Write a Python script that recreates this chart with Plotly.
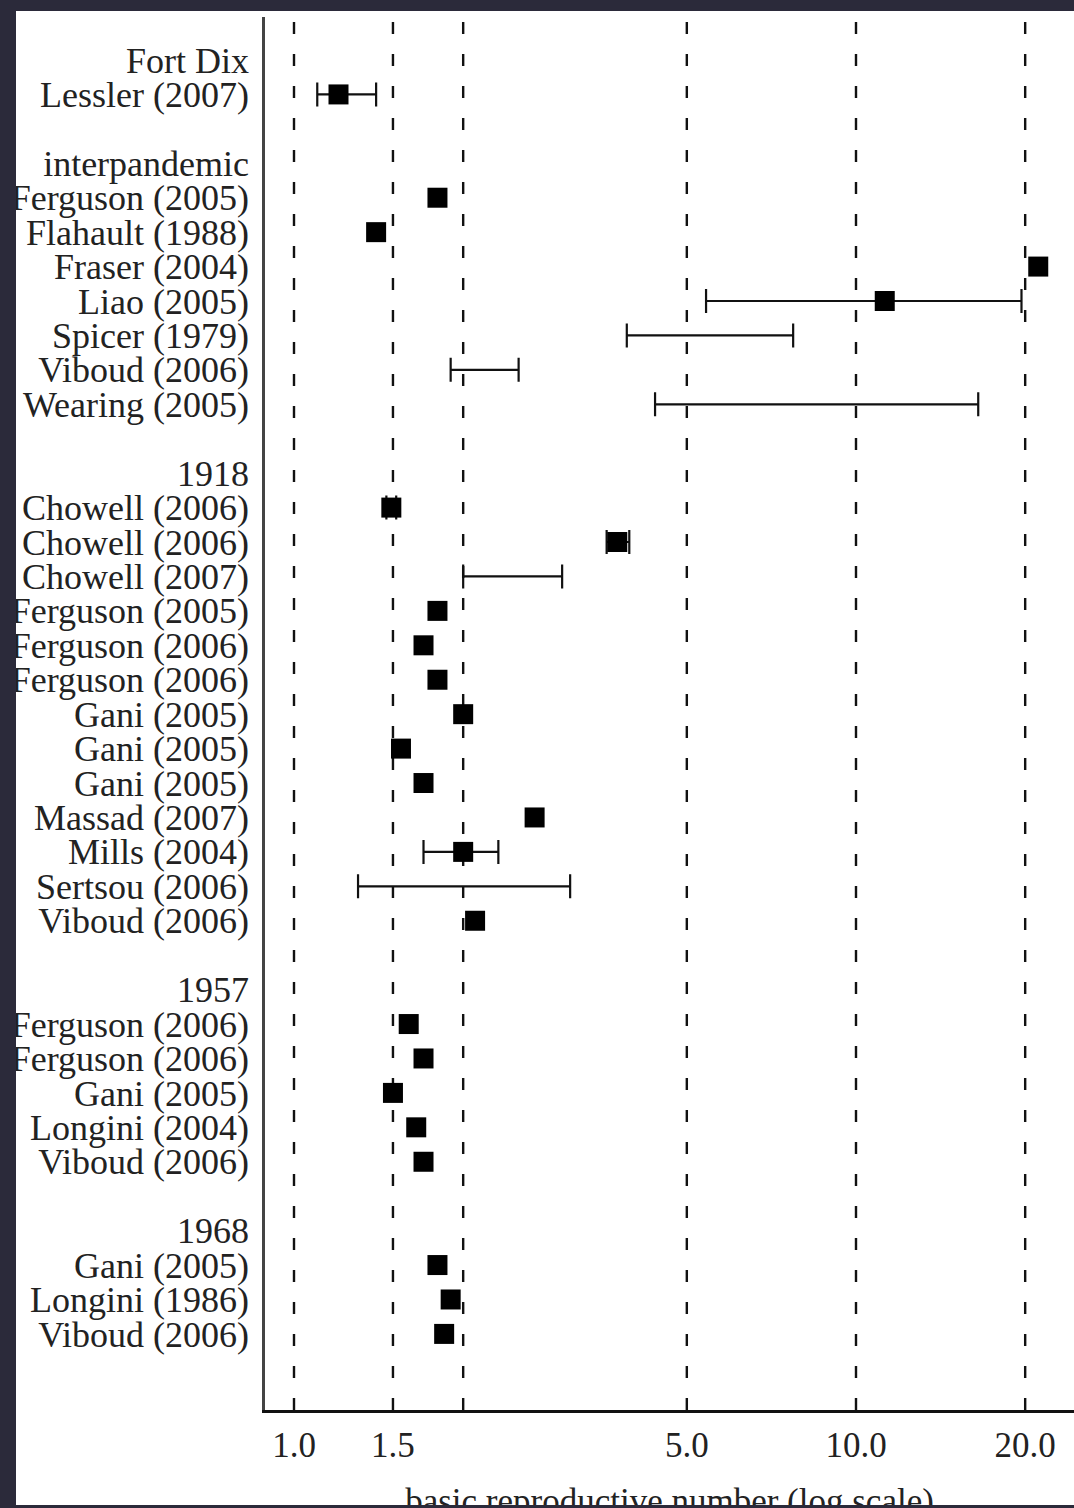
import plotly.graph_objects as go

labels = ["Fort Dix", "Lessler (2007)", "", "interpandemic", "Ferguson (2005)", "Flahault (1988)",
          "Fraser (2004)", "Liao (2005)", "Spicer (1979)", "Viboud (2006)", "Wearing (2005)", "",
          "1918", "Chowell (2006)", "Chowell (2006)", "Chowell (2007)", "Ferguson (2005)",
          "Ferguson (2006)", "Ferguson (2006)", "Gani (2005)", "Gani (2005)", "Gani (2005)",
          "Massad (2007)", "Mills (2004)", "Sertsou (2006)", "Viboud (2006)", "",
          "1957", "Ferguson (2006)", "Ferguson (2006)", "Gani (2005)", "Longini (2004)", "Viboud (2006)", "",
          "1968", "Gani (2005)", "Longini (1986)", "Viboud (2006)"]

estimate = [None, 1.20, None, None, 1.80, 1.40, 21.1, 11.25, None, None, None, None,
            None, 1.49, 3.76, None, 1.80, 1.70, 1.80, 2.00, 1.55, 1.70,
            2.68, 2.00, None, 2.10, None,
            None, 1.60, 1.70, 1.50, 1.65, 1.70, None,
            None, 1.80, 1.90, 1.85]

ci_low = [None, 1.10, None, None, None, None, None, 5.41, 3.91, 1.90, 4.39, None,
          None, 1.46, 3.60, 2.00, None, None, None, None, None, None,
          None, 1.70, 1.30, None, None,
          None, None, None, None, None, None, None,
          None, None, None, None]

ci_high = [None, 1.40, None, None, None, None, None, 19.7, 7.73, 2.51, 16.5, None,
           None, 1.52, 3.95, 3.00, None, None, None, None, None, None,
           None, 2.31, 3.10, None, None,
           None, None, None, None, None, None, None,
           None, None, None, None]

ref_lines = [1.0, 1.5, 2.0, 5.0, 10.0, 20.0]
tick_vals = [1.0, 1.5, 5.0, 10.0, 20.0]
tick_text = ["1.0", "1.5", "5.0", "10.0", "20.0"]
x_title = "basic reproductive number (log scale)"

rows = list(range(len(labels)))

FONT = "Liberation Serif, Times New Roman, serif"
DARK = "#2b2a3a"
W, H = 1074, 1508
ML, MR, MT, MB = 265, 0, 17, 98
PW, PH = W - ML - MR, H - MT - MB

fig = go.Figure()

# confidence intervals
ci_rows = [r for r in rows if ci_low[r] is not None]
fig.add_trace(go.Scatter(
    x=[ci_low[r] for r in ci_rows],
    y=ci_rows,
    mode="markers",
    marker=dict(size=1, color="rgba(0,0,0,0)"),
    error_x=dict(type="data", symmetric=False,
                 array=[ci_high[r] - ci_low[r] for r in ci_rows],
                 arrayminus=[0 for r in ci_rows],
                 color="#111", thickness=2.2, width=12),
    hoverinfo="skip", showlegend=False,
))

# point estimates
pt_rows = [r for r in rows if estimate[r] is not None]
fig.add_trace(go.Scatter(
    x=[estimate[r] for r in pt_rows],
    y=pt_rows,
    mode="markers",
    marker=dict(symbol="square", size=20, color="#000", line=dict(width=0)),
    showlegend=False,
))

# carrier for the x-axis title axis (no data)
fig.add_trace(go.Scatter(x=[None], y=[None], xaxis="x2", yaxis="y",
                         mode="markers", showlegend=False, hoverinfo="skip"))

# dashed reference lines
for v in ref_lines:
    fig.add_shape(type="line", xref="x", yref="paper", x0=v, x1=v, y0=0, y1=1,
                  line=dict(color="#111", width=2.4, dash="12px,20px"), layer="below")

def px_to_paper_x(px):
    return (px - ML) / PW

def py_to_paper_y(py):
    return (H - MB - py) / PH

# dark frame around the white slide panel
for (x0, x1, y0, y1) in [(0, 16, 0, H), (0, W, 0, 11), (0, W, 1505, H)]:
    fig.add_shape(type="rect", xref="paper", yref="paper",
                  x0=px_to_paper_x(x0), x1=px_to_paper_x(x1),
                  y0=py_to_paper_y(y1), y1=py_to_paper_y(y0),
                  fillcolor=DARK, line=dict(width=0), layer="above")

fig.update_layout(
    width=W, height=H,
    margin=dict(l=ML, r=MR, t=MT, b=MB, pad=0, autoexpand=False),
    paper_bgcolor="white", plot_bgcolor="white",
    font=dict(family=FONT, color="#222"),
    xaxis=dict(type="log", range=[-0.0516, 1.3879],
               tickvals=tick_vals, ticktext=tick_text,
               tickfont=dict(size=35, family=FONT, color="#222"),
               showgrid=False, zeroline=False, ticks="",
               showline=True, linecolor="#111", linewidth=2.5,
               ticklabelstandoff=2, automargin=False),
    xaxis2=dict(overlaying="x", anchor="y", side="bottom", range=[0, 1],
                tickvals=[0.5], ticktext=[x_title],
                tickfont=dict(size=35, family=FONT, color="#222"),
                showgrid=False, zeroline=False, ticks="", showline=False,
                ticklabelstandoff=67, automargin=False),
    yaxis=dict(range=[39.21, -1.249], tickvals=rows, ticktext=labels,
               tickfont=dict(size=36, family=FONT, color="#222"),
               showgrid=False, zeroline=False, ticks="",
               showline=True, linecolor="#444", linewidth=2.5,
               ticklabelstandoff=6, automargin=False),
)

fig.write_html("out.html", config={"displayModeBar": False},
               post_script="document.body.style.margin='0px';")
